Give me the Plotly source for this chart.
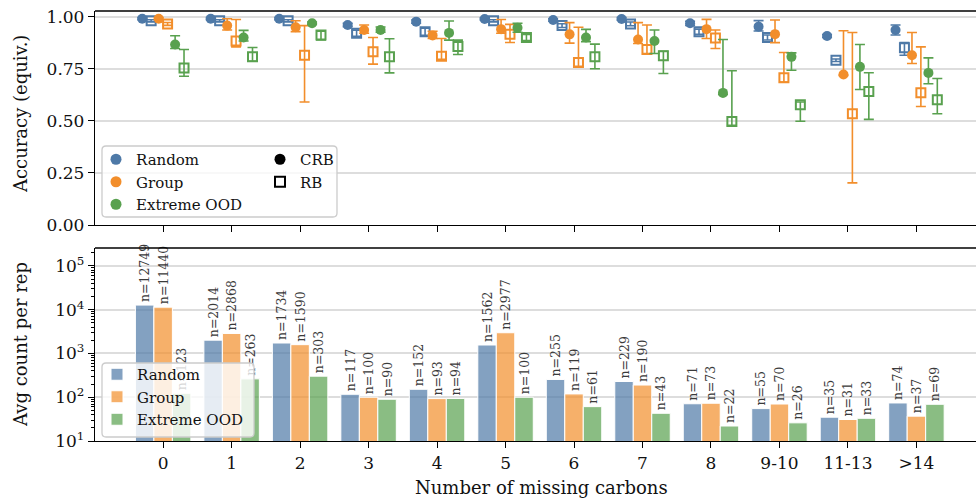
import numpy as np
import plotly.graph_objects as go

# ---------------- data ----------------
categories = ["0", "1", "2", "3", "4", "5", "6", "7", "8", "9-10", "11-13", ">14"]
series = ["Random", "Group", "Extreme OOD"]

# accuracy (CRB = filled circle, RB = open square): mean, lower, upper
random_crb = [0.990, 0.990, 0.990, 0.960, 0.976, 0.989, 0.984, 0.989, 0.968, 0.952, 0.907, 0.936]
random_crb_lo = [0.985, 0.985, 0.985, 0.952, 0.968, 0.984, 0.978, 0.983, 0.958, 0.931, 0.900, 0.912]
random_crb_hi = [0.995, 0.995, 0.995, 0.968, 0.984, 0.994, 0.990, 0.995, 0.978, 0.981, 0.914, 0.960]

random_rb = [0.980, 0.980, 0.980, 0.920, 0.927, 0.980, 0.957, 0.965, 0.927, 0.900, 0.791, 0.851]
random_rb_lo = [0.975, 0.975, 0.975, 0.905, 0.910, 0.975, 0.948, 0.956, 0.915, 0.888, 0.785, 0.815]
random_rb_hi = [0.985, 0.985, 0.985, 0.935, 0.945, 0.985, 0.966, 0.974, 0.940, 0.912, 0.797, 0.875]

group_crb = [0.990, 0.957, 0.949, 0.936, 0.910, 0.940, 0.915, 0.890, 0.940, 0.916, 0.722, 0.815]
group_crb_lo = [0.985, 0.936, 0.928, 0.920, 0.895, 0.920, 0.873, 0.871, 0.895, 0.875, 0.718, 0.775]
group_crb_hi = [0.995, 0.990, 0.980, 0.960, 0.930, 0.986, 0.971, 0.971, 0.987, 0.984, 0.932, 0.924]

group_rb = [0.965, 0.883, 0.815, 0.831, 0.810, 0.915, 0.780, 0.842, 0.898, 0.707, 0.534, 0.635]
group_rb_lo = [0.958, 0.855, 0.590, 0.772, 0.795, 0.876, 0.762, 0.823, 0.847, 0.686, 0.202, 0.569]
group_rb_hi = [0.972, 0.986, 0.957, 0.900, 0.895, 0.963, 0.949, 0.960, 0.936, 0.828, 0.924, 0.855]

extreme_crb = [0.866, 0.900, 0.968, 0.936, 0.922, 0.947, 0.900, 0.883, 0.634, 0.807, 0.759, 0.730]
extreme_crb_lo = [0.847, 0.883, 0.962, 0.925, 0.887, 0.925, 0.880, 0.823, 0.626, 0.743, 0.650, 0.678]
extreme_crb_hi = [0.908, 0.934, 0.974, 0.950, 0.979, 0.968, 0.939, 0.936, 0.890, 0.826, 0.866, 0.802]

extreme_rb = [0.754, 0.807, 0.912, 0.807, 0.857, 0.900, 0.807, 0.812, 0.497, 0.577, 0.641, 0.601]
extreme_rb_lo = [0.714, 0.786, 0.888, 0.730, 0.818, 0.885, 0.750, 0.727, 0.478, 0.498, 0.507, 0.534]
extreme_rb_hi = [0.842, 0.852, 0.930, 0.894, 0.887, 0.915, 0.868, 0.834, 0.740, 0.590, 0.731, 0.703]

# average counts per rep
count_random = [12749, 2014, 1734, 117, 152, 1562, 255, 229, 71, 55, 35, 74]
count_group = [11440, 2868, 1590, 100, 93, 2977, 119, 190, 73, 70, 31, 37]
count_extreme = [123, 263, 303, 90, 94, 100, 61, 43, 22, 26, 33, 69]

# ---------------- style ----------------
colors = ["#4e79a7", "#f28e2b", "#59a14f"]
bar_colors = ["rgba(78,121,167,0.7)", "rgba(242,142,43,0.7)", "rgba(89,161,79,0.7)"]
FONT = "DejaVu Serif"
W, H = 976, 498
L, R, T, B = 95, 0, 11, 57
PW, PH = W - L - R, H - T - B


def px_x(px):
    return (px - L) / PW


def px_y(py):
    return (H - B - py) / PH


top_dom = [px_y(225), 1.0]
bot_dom = [0.0, px_y(248)]

idx = np.arange(len(categories))
fig = go.Figure()

acc = [
    (random_crb, random_crb_lo, random_crb_hi, random_rb, random_rb_lo, random_rb_hi),
    (group_crb, group_crb_lo, group_crb_hi, group_rb, group_rb_lo, group_rb_hi),
    (extreme_crb, extreme_crb_lo, extreme_crb_hi, extreme_rb, extreme_rb_lo, extreme_rb_hi),
]
series_off = [-0.24, 0.0, 0.24]
method_off = 0.065

for k, (c, clo, chi, r, rlo, rhi) in enumerate(acc):
    c, clo, chi = map(np.array, (c, clo, chi))
    r, rlo, rhi = map(np.array, (r, rlo, rhi))
    fig.add_trace(go.Scatter(
        x=idx + series_off[k] - method_off, y=c, mode="markers",
        marker=dict(symbol="circle", size=10, color=colors[k]),
        error_y=dict(type="data", symmetric=False, array=chi - c, arrayminus=c - clo,
                     color=colors[k], thickness=1.6, width=5),
        showlegend=False, xaxis="x", yaxis="y"))
    fig.add_trace(go.Scatter(
        x=idx + series_off[k] + method_off, y=r, mode="markers",
        marker=dict(symbol="square-open", size=9, color=colors[k], line=dict(width=2, color=colors[k])),
        error_y=dict(type="data", symmetric=False, array=rhi - r, arrayminus=r - rlo,
                     color=colors[k], thickness=1.6, width=5),
        showlegend=False, xaxis="x", yaxis="y"))

# legend dummies (top)
for k, s in enumerate(series):
    fig.add_trace(go.Scatter(x=[None], y=[None], mode="markers", name=s,
                             marker=dict(symbol="circle", size=11, color=colors[k]),
                             legend="legend", xaxis="x", yaxis="y"))
fig.add_trace(go.Scatter(x=[None], y=[None], mode="markers", name="CRB",
                         marker=dict(symbol="circle", size=11, color="black"),
                         legend="legend2", xaxis="x", yaxis="y"))
fig.add_trace(go.Scatter(x=[None], y=[None], mode="markers", name="RB",
                         marker=dict(symbol="square-open", size=10, color="black", line=dict(width=2, color="black")),
                         legend="legend2", xaxis="x", yaxis="y"))

# bars (bottom)
for k, (s, vals) in enumerate(zip(series, [count_random, count_group, count_extreme])):
    fig.add_trace(go.Bar(
        x=idx, y=vals, name=s, marker=dict(color=bar_colors[k], line=dict(color="white", width=1)),
        text=[f"n={v}" for v in vals], textposition="outside", textangle=-90,
        textfont=dict(family=FONT, size=12.5, color="#3a3a3a"), constraintext="none",
        cliponaxis=False, legend="legend3", xaxis="x2", yaxis="y2"))

axis_common = dict(showline=True, linecolor="black", linewidth=1.3, ticks="outside",
                   ticklen=6, tickwidth=1.3, tickcolor="black", zeroline=False)
xr = [-0.995, 11.87]

minor_vals = [m * 10 ** e for e in range(1, 6) for m in range(2, 10) if m * 10 ** e < 10 ** 5.41]

legend_common = dict(bgcolor="rgba(0,0,0,0)", borderwidth=0, font=dict(family=FONT, size=15, color="#111"),
                     xanchor="left", yanchor="top", tracegroupgap=0)


def rounded_rect(x0p, y0p, x1p, y1p, r=4):
    pts = lambda x, y: f"{px_x(x)},{px_y(y)}"
    return ("M " + pts(x0p + r, y0p) + " L " + pts(x1p - r, y0p) + " Q " + pts(x1p, y0p) + " " + pts(x1p, y0p + r)
            + " L " + pts(x1p, y1p - r) + " Q " + pts(x1p, y1p) + " " + pts(x1p - r, y1p)
            + " L " + pts(x0p + r, y1p) + " Q " + pts(x0p, y1p) + " " + pts(x0p, y1p - r)
            + " L " + pts(x0p, y0p + r) + " Q " + pts(x0p, y0p) + " " + pts(x0p + r, y0p) + " Z")


shapes = [
    dict(type="line", xref="paper", yref="paper", x0=0, x1=1, y0=1, y1=1, line=dict(color="black", width=1.3)),
    dict(type="line", xref="paper", yref="paper", x0=0, x1=1, y0=bot_dom[1], y1=bot_dom[1], line=dict(color="black", width=1.3)),
    dict(type="path", xref="paper", yref="paper", path=rounded_rect(102, 146, 337, 217),
         fillcolor="rgba(255,255,255,0.8)", line=dict(color="#cccccc", width=1.3), layer="above"),
    dict(type="path", xref="paper", yref="paper", path=rounded_rect(102, 363, 254, 437),
         fillcolor="rgba(255,255,255,0.8)", line=dict(color="#cccccc", width=1.3), layer="above"),
]

annotations = [
    dict(text="Accuracy (equiv.)", xref="paper", yref="paper", x=px_x(20), y=px_y(114), textangle=-90,
         showarrow=False, font=dict(family=FONT, size=18, color="#111"), xanchor="center", yanchor="middle"),
    dict(text="Avg count per rep", xref="paper", yref="paper", x=px_x(20), y=px_y(345), textangle=-90,
         showarrow=False, font=dict(family=FONT, size=18, color="#111"), xanchor="center", yanchor="middle"),
    dict(text="Number of missing carbons", xref="paper", yref="paper", x=px_x(541), y=px_y(487),
         showarrow=False, font=dict(family=FONT, size=18, color="#111"), xanchor="center", yanchor="middle"),
]

fig.update_layout(
    width=W, height=H, margin=dict(l=L, r=R, t=T, b=B),
    paper_bgcolor="white", plot_bgcolor="white",
    font=dict(family=FONT, size=17, color="#111"),
    barmode="group", bargap=0.19, bargroupgap=0,
    xaxis=dict(domain=[0, 1], anchor="y", range=xr, tickvals=idx, ticktext=categories, showticklabels=False,
               showgrid=False, **axis_common),
    yaxis=dict(domain=top_dom, anchor="x", range=[0, 1.027], tickvals=[0, 0.25, 0.5, 0.75, 1.0],
               ticktext=["0.00", "0.25", "0.50", "0.75", "1.00"], showgrid=True, gridcolor="#dddddd",
               gridwidth=1.5, **axis_common),
    xaxis2=dict(domain=[0, 1], anchor="y2", range=xr, tickvals=idx, ticktext=categories, showgrid=False,
                **axis_common),
    yaxis2=dict(domain=bot_dom, anchor="x2", type="log", range=[1, 5.41],
                tickvals=[10, 100, 1000, 10000, 100000],
                ticktext=["10<sup>1</sup>", "10<sup>2</sup>", "10<sup>3</sup>", "10<sup>4</sup>", "10<sup>5</sup>"],
                showgrid=True, gridcolor="#dddddd", gridwidth=1.5,
                minor=dict(tickmode="array", tickvals=minor_vals, ticks="outside", ticklen=3,
                           tickcolor="black", tickwidth=1, showgrid=False),
                **axis_common),
    legend=dict(x=px_x(96), y=px_y(143), **legend_common),
    legend2=dict(x=px_x(260), y=px_y(143), **legend_common),
    legend3=dict(x=px_x(97), y=px_y(358), **legend_common),
    shapes=shapes, annotations=annotations,
)

fig.write_html("out.html")
